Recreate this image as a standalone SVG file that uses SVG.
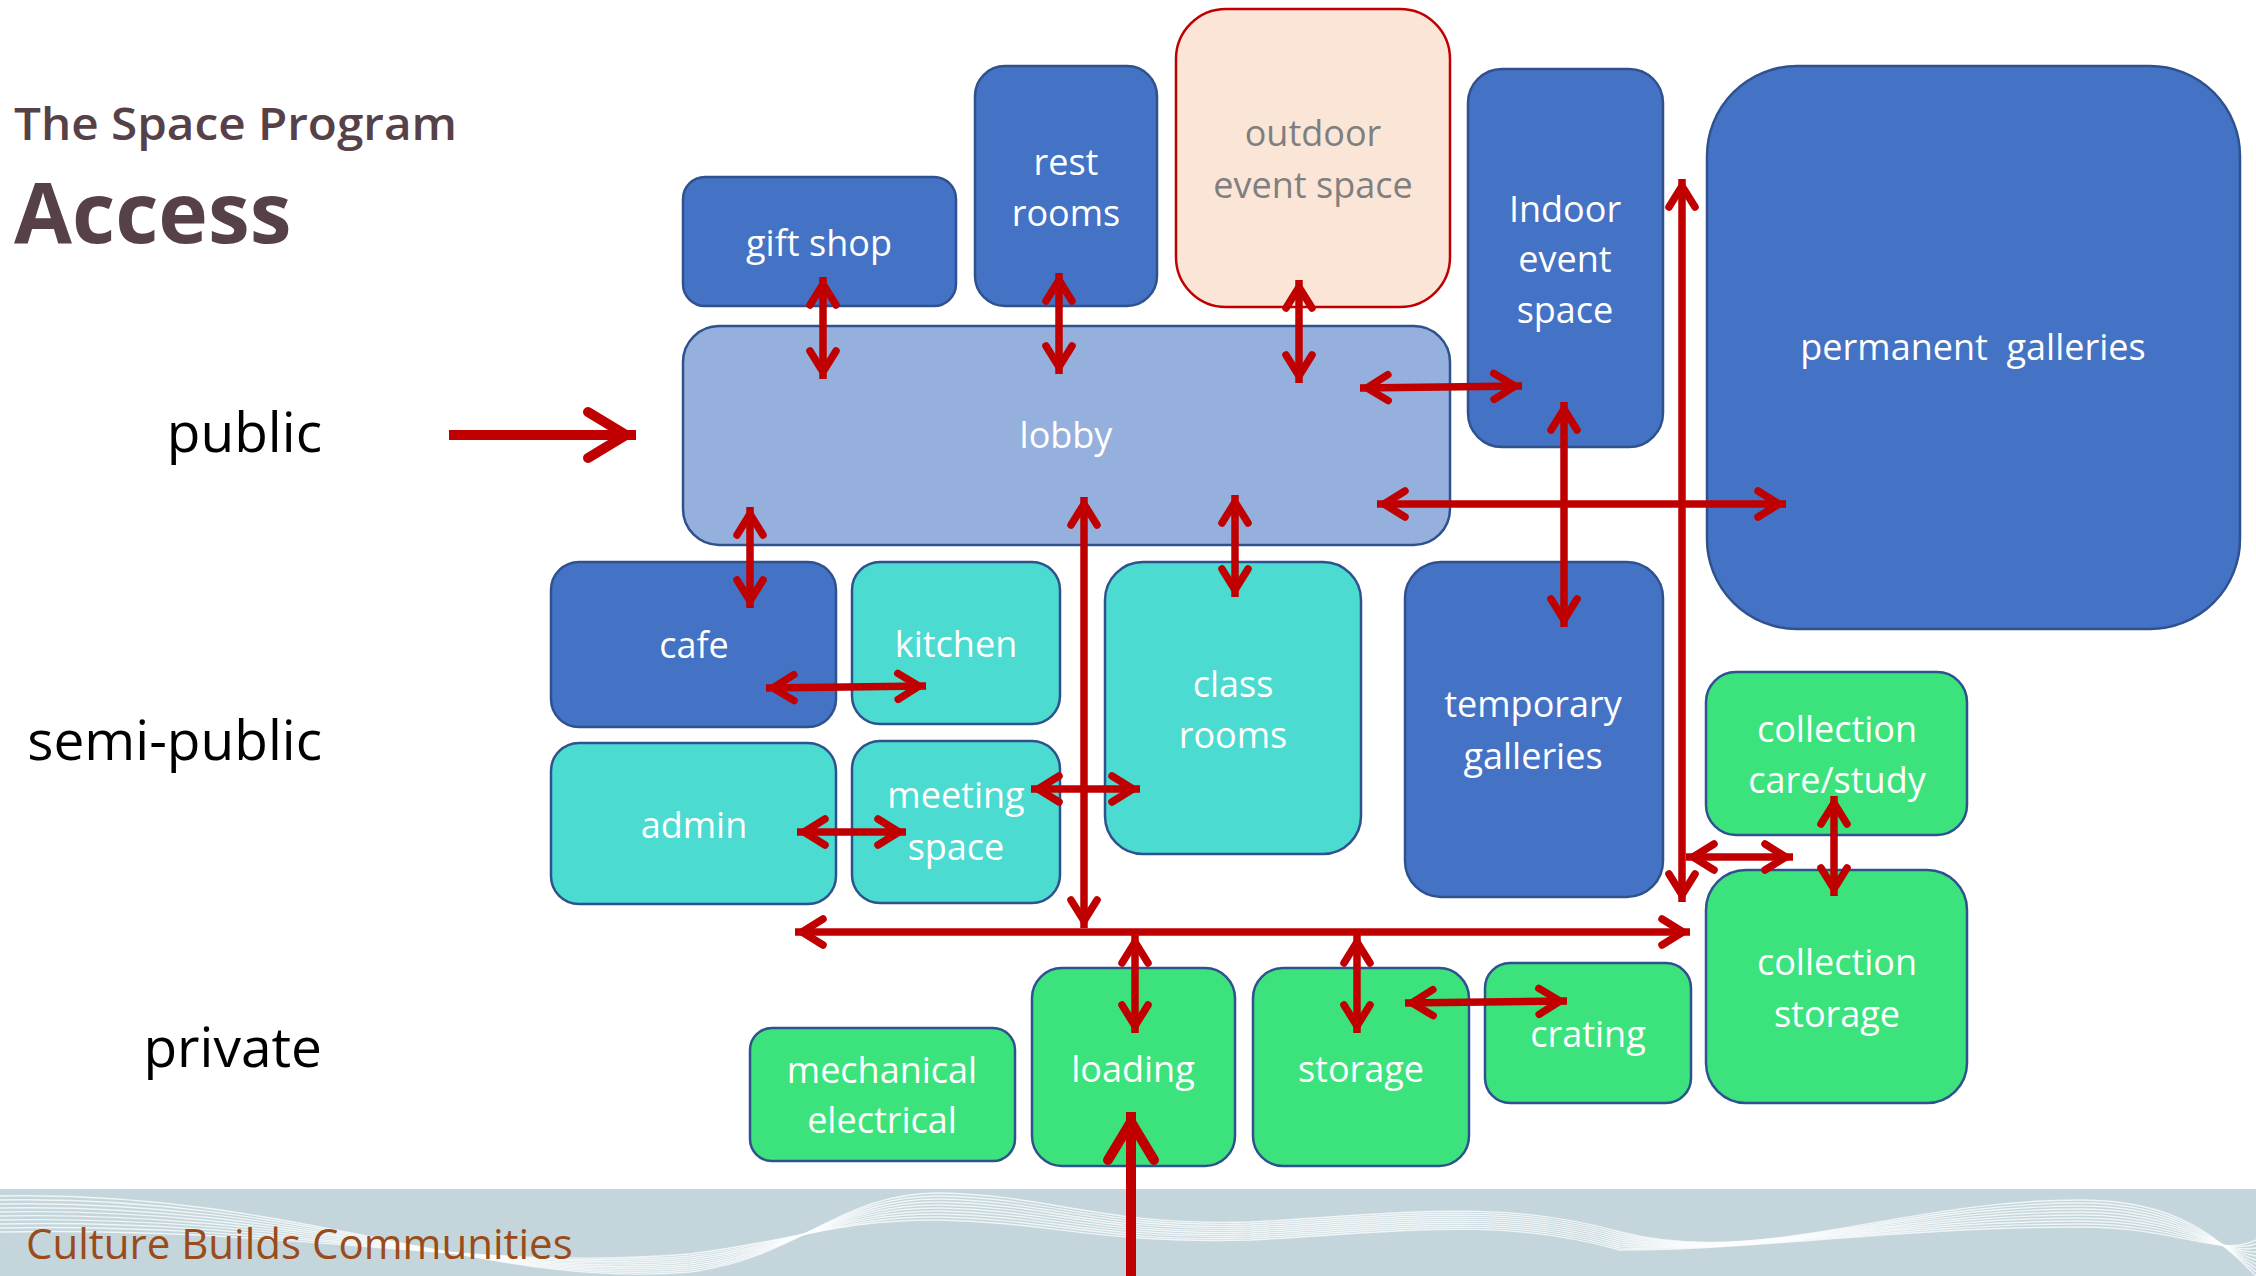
<svg xmlns="http://www.w3.org/2000/svg" width="2256" height="1276" viewBox="0 0 2256 1276">
<style>
.lbl{font-family:"Open Sans","Noto Sans","Liberation Sans",sans-serif;font-size:36px;fill:#FFFFFF;text-anchor:middle}
.tier{font-family:"Open Sans","Noto Sans","Liberation Sans",sans-serif;font-size:55px;fill:#000000;text-anchor:end}
.blue{fill:#4472C4;stroke:#2F528F;stroke-width:2.5}
.lobby{fill:#95B0DC;stroke:#2F528F;stroke-width:2.5}
.teal{fill:#4BDBD1;stroke:#2F528F;stroke-width:2.5}
.green{fill:#3CE37D;stroke:#2F528F;stroke-width:2.5}
.out{fill:#FBE5D6;stroke:#C00000;stroke-width:2.5}
.c{fill:none;stroke:#C00000;stroke-width:7.5;marker-start:url(#ah);marker-end:url(#ah)}
.e{fill:none;stroke:#C00000;stroke-width:10;marker-end:url(#ahb)}
.wave{fill:none;stroke:#FFFFFF;stroke-width:1.4;opacity:0.75}
</style>
<defs>
<marker id="ah" viewBox="-34 -20 40 40" markerWidth="40" markerHeight="40" refX="0" refY="0" orient="auto-start-reverse" markerUnits="userSpaceOnUse">
<path d="M-28,-13 L-7,0 L-28,13" fill="none" stroke="#C00000" stroke-width="7.5" stroke-linecap="round"/>
</marker>
<marker id="ahb" viewBox="-58 -32 64 64" markerWidth="64" markerHeight="64" refX="0" refY="0" orient="auto" markerUnits="userSpaceOnUse">
<path d="M-48,-23 L-10,0 L-48,23" fill="none" stroke="#C00000" stroke-width="10" stroke-linecap="round"/>
</marker>
<clipPath id="band"><rect x="0" y="1189" width="2256" height="87"/></clipPath>
</defs>
<rect x="0" y="0" width="2256" height="1276" fill="#FFFFFF"/>
<g id="footer">
<rect x="0" y="1189" width="2256" height="87" fill="#C4D6DC"/>
<g clip-path="url(#band)">
<path class="wave" d="M0,1196 C300,1190 480,1290 690,1272 C800,1258 840,1192 940,1193 C1050,1195 1100,1226 1250,1222 C1400,1214 1500,1198 1620,1232 C1760,1268 1900,1200 2080,1200 C2180,1200 2220,1240 2256,1276"/>
<path class="wave" d="M0,1200 C300,1194 480,1288 690,1270 C800,1256 840,1195 940,1196 C1050,1198 1100,1228 1250,1224 C1400,1216 1500,1200 1620,1234 C1760,1266 1900,1203 2080,1203 C2180,1203 2220,1242 2256,1272"/>
<path class="wave" d="M0,1204 C300,1198 480,1286 690,1268 C800,1254 840,1198 940,1199 C1050,1201 1100,1230 1250,1226 C1400,1218 1500,1202 1620,1236 C1760,1264 1900,1206 2080,1206 C2180,1206 2220,1244 2256,1268"/>
<path class="wave" d="M0,1208 C300,1202 480,1284 690,1266 C800,1252 840,1201 940,1202 C1050,1204 1100,1232 1250,1228 C1400,1220 1500,1204 1620,1238 C1760,1262 1900,1209 2080,1209 C2180,1209 2220,1246 2256,1264"/>
<path class="wave" d="M0,1212 C300,1206 480,1282 690,1264 C800,1250 840,1204 940,1205 C1050,1207 1100,1234 1250,1230 C1400,1222 1500,1206 1620,1240 C1760,1260 1900,1212 2080,1212 C2180,1212 2220,1248 2256,1260"/>
<path class="wave" d="M0,1216 C300,1210 480,1280 690,1262 C800,1248 840,1207 940,1208 C1050,1210 1100,1236 1250,1232 C1400,1224 1500,1208 1620,1242 C1760,1258 1900,1215 2080,1215 C2180,1215 2220,1250 2256,1256"/>
<path class="wave" d="M0,1220 C300,1214 480,1278 690,1260 C800,1246 840,1210 940,1211 C1050,1213 1100,1238 1250,1234 C1400,1226 1500,1210 1620,1244 C1760,1256 1900,1218 2080,1218 C2180,1218 2220,1252 2256,1252"/>
<path class="wave" d="M0,1224 C300,1218 480,1276 690,1258 C800,1244 840,1213 940,1214 C1050,1216 1100,1240 1250,1236 C1400,1228 1500,1212 1620,1246 C1760,1254 1900,1221 2080,1221 C2180,1221 2220,1254 2256,1248"/>
<path class="wave" d="M0,1228 C300,1222 480,1274 690,1256 C800,1242 840,1216 940,1217 C1050,1219 1100,1242 1250,1238 C1400,1230 1500,1214 1620,1248 C1760,1252 1900,1224 2080,1224 C2180,1224 2220,1256 2256,1244"/>
<path class="wave" d="M0,1232 C300,1226 480,1272 690,1254 C800,1240 840,1219 940,1220 C1050,1222 1100,1244 1250,1240 C1400,1232 1500,1216 1620,1250 C1760,1250 1900,1227 2080,1227 C2180,1227 2220,1258 2256,1240"/>
</g>
<text x="26" y="1259" font-family="'Open Sans','Noto Sans','Liberation Sans',sans-serif" font-size="42" fill="#9A4B1A">Culture Builds Communities</text>
</g>
<g id="title">
<text x="14" y="140" font-family="'Open Sans','Noto Sans','Liberation Sans',sans-serif" font-size="46" font-weight="600" fill="#574149" textLength="443" lengthAdjust="spacingAndGlyphs">The Space Program</text>
<text x="14" y="243" font-family="'Open Sans','Noto Sans','Liberation Sans',sans-serif" font-size="84" font-weight="700" fill="#574149">Access</text>
</g>
<g id="tiers">
<text class="tier" x="322" y="452">public</text>
<text class="tier" x="322" y="760">semi-public</text>
<text class="tier" x="322" y="1067">private</text>
</g>
<g id="node-giftshop"><rect class="blue" x="683" y="177" width="273" height="129" rx="22"/><text class="lbl" x="819" y="256">gift shop</text></g>
<g id="node-restrooms"><rect class="blue" x="975" y="66" width="182" height="240" rx="30"/><text class="lbl" x="1066" y="175">rest</text><text class="lbl" x="1066" y="226">rooms</text></g>
<g id="node-outdoor"><rect class="out" x="1176" y="9" width="274" height="298" rx="50"/><text class="lbl" x="1313" y="146" style="fill:#7F7F7F">outdoor</text><text class="lbl" x="1313" y="198" style="fill:#7F7F7F">event space</text></g>
<g id="node-indoor"><rect class="blue" x="1468" y="69" width="195" height="378" rx="34"/><text class="lbl" x="1565" y="222">Indoor</text><text class="lbl" x="1565" y="272">event</text><text class="lbl" x="1565" y="323">space</text></g>
<g id="node-permanent"><rect class="blue" x="1707" y="66" width="533" height="563" rx="90"/><text class="lbl" x="1973" y="360" xml:space="preserve">permanent  galleries</text></g>
<g id="node-lobby"><rect class="lobby" x="683" y="326" width="767" height="219" rx="36"/><text class="lbl" x="1066" y="448">lobby</text></g>
<g id="node-cafe"><rect class="blue" x="551" y="562" width="285" height="165" rx="28"/><text class="lbl" x="694" y="658">cafe</text></g>
<g id="node-kitchen"><rect class="teal" x="852" y="562" width="208" height="162" rx="28"/><text class="lbl" x="956" y="657">kitchen</text></g>
<g id="node-classrooms"><rect class="teal" x="1105" y="562" width="256" height="292" rx="38"/><text class="lbl" x="1233" y="697">class</text><text class="lbl" x="1233" y="748">rooms</text></g>
<g id="node-temporary"><rect class="blue" x="1405" y="562" width="258" height="335" rx="36"/><text class="lbl" x="1533" y="717">temporary</text><text class="lbl" x="1533" y="769">galleries</text></g>
<g id="node-carestudy"><rect class="green" x="1706" y="672" width="261" height="163" rx="30"/><text class="lbl" x="1837" y="742">collection</text><text class="lbl" x="1837" y="793">care/study</text></g>
<g id="node-admin"><rect class="teal" x="551" y="743" width="285" height="161" rx="28"/><text class="lbl" x="694" y="838">admin</text></g>
<g id="node-meeting"><rect class="teal" x="852" y="741" width="208" height="162" rx="28"/><text class="lbl" x="956" y="808">meeting</text><text class="lbl" x="956" y="860">space</text></g>
<g id="node-collstorage"><rect class="green" x="1706" y="870" width="261" height="233" rx="40"/><text class="lbl" x="1837" y="975">collection</text><text class="lbl" x="1837" y="1027">storage</text></g>
<g id="node-mechanical"><rect class="green" x="750" y="1028" width="265" height="133" rx="22"/><text class="lbl" x="882" y="1083">mechanical</text><text class="lbl" x="882" y="1133">electrical</text></g>
<g id="node-loading"><rect class="green" x="1032" y="968" width="203" height="198" rx="30"/><text class="lbl" x="1133" y="1082">loading</text></g>
<g id="node-storage"><rect class="green" x="1253" y="968" width="216" height="198" rx="30"/><text class="lbl" x="1361" y="1082">storage</text></g>
<g id="node-crating"><rect class="green" x="1485" y="963" width="206" height="140" rx="25"/><text class="lbl" x="1588" y="1047">crating</text></g>
<g id="connectors">
<line class="e" x1="449" y1="435" x2="636" y2="435"/>
<line class="e" x1="1131" y1="1276" x2="1131" y2="1112"/>
<line class="c" x1="823" y1="277" x2="823" y2="379"/>
<line class="c" x1="1059" y1="273" x2="1059" y2="374"/>
<line class="c" x1="1299" y1="280" x2="1299" y2="383"/>
<line class="c" x1="1360" y1="388" x2="1522" y2="386"/>
<line class="c" x1="1377" y1="504" x2="1786" y2="504"/>
<line class="c" x1="1564" y1="402" x2="1564" y2="627"/>
<line class="c" x1="1682" y1="179" x2="1682" y2="902"/>
<line class="c" x1="750" y1="507" x2="750" y2="608"/>
<line class="c" x1="766" y1="688" x2="926" y2="686"/>
<line class="c" x1="1084" y1="497" x2="1084" y2="928"/>
<line class="c" x1="1235" y1="495" x2="1235" y2="597"/>
<line class="c" x1="797" y1="832" x2="906" y2="832"/>
<line class="c" x1="1031" y1="789" x2="1140" y2="789"/>
<line class="c" x1="795" y1="932" x2="1690" y2="932"/>
<line class="c" x1="1135" y1="935" x2="1135" y2="1033"/>
<line class="c" x1="1357" y1="935" x2="1357" y2="1033"/>
<line class="c" x1="1405" y1="1003" x2="1567" y2="1001"/>
<line class="c" x1="1686" y1="857" x2="1793" y2="857"/>
<line class="c" x1="1834" y1="796" x2="1834" y2="896"/>
</g>
</svg>
